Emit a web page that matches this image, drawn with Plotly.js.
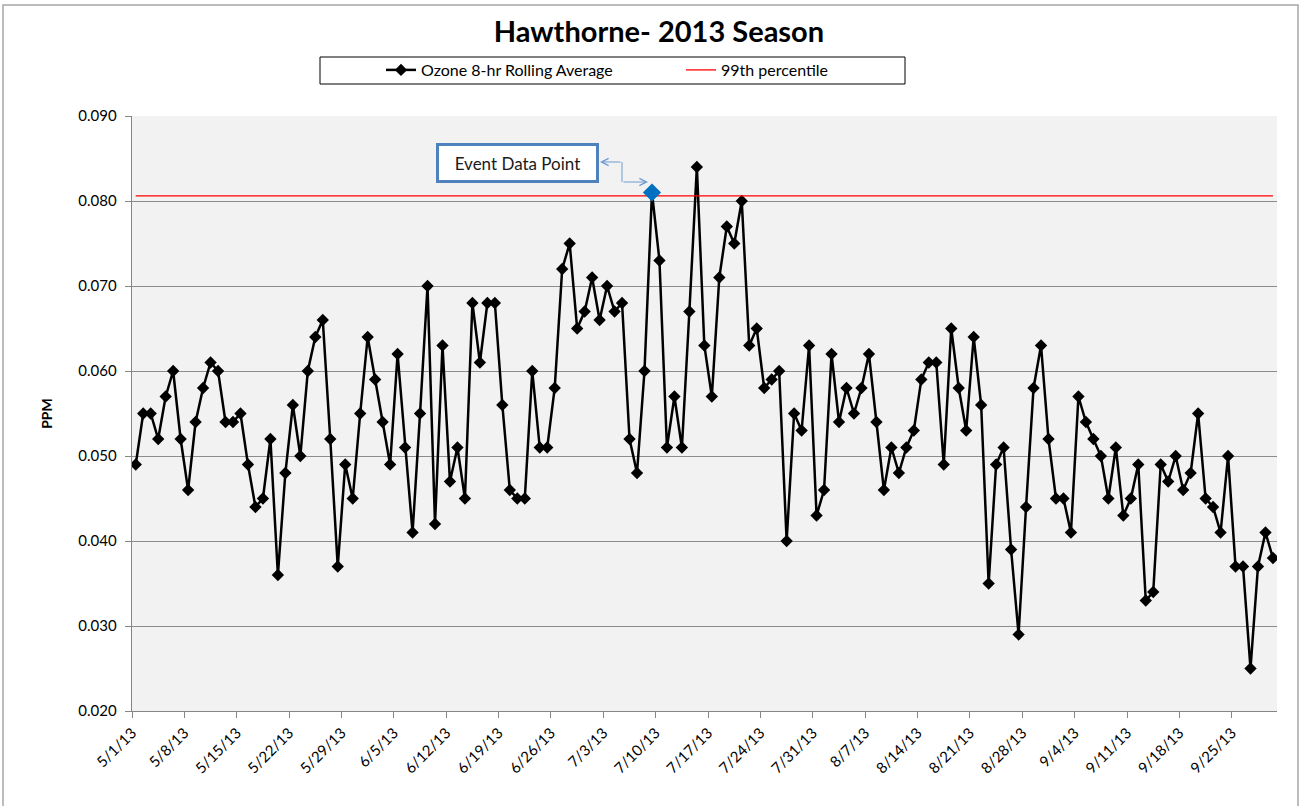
<!DOCTYPE html>
<html>
<head>
<meta charset="utf-8">
<script src="https://cdn.plot.ly/plotly-3.0.1.min.js"></script>
<style>html,body{margin:0;padding:0;background:#fff;}#chart{width:1301px;height:806px;}</style>
</head>
<body>
<div id="chart"></div>
<script>
// ---- data ----
const startDate = [2013, 5, 1]; // first day of the season (5/1/13)
const ozone = [
  0.049,0.055,0.055,0.052,0.057,0.060,0.052,0.046,0.054,0.058,
  0.061,0.060,0.054,0.054,0.055,0.049,0.044,0.045,0.052,0.036,
  0.048,0.056,0.050,0.060,0.064,0.066,0.052,0.037,0.049,0.045,
  0.055,0.064,0.059,0.054,0.049,0.062,0.051,0.041,0.055,0.070,
  0.042,0.063,0.047,0.051,0.045,0.068,0.061,0.068,0.068,0.056,
  0.046,0.045,0.045,0.060,0.051,0.051,0.058,0.072,0.075,0.065,
  0.067,0.071,0.066,0.070,0.067,0.068,0.052,0.048,0.060,0.081,
  0.073,0.051,0.057,0.051,0.067,0.084,0.063,0.057,0.071,0.077,
  0.075,0.080,0.063,0.065,0.058,0.059,0.060,0.040,0.055,0.053,
  0.063,0.043,0.046,0.062,0.054,0.058,0.055,0.058,0.062,0.054,
  0.046,0.051,0.048,0.051,0.053,0.059,0.061,0.061,0.049,0.065,
  0.058,0.053,0.064,0.056,0.035,0.049,0.051,0.039,0.029,0.044,
  0.058,0.063,0.052,0.045,0.045,0.041,0.057,0.054,0.052,0.050,
  0.045,0.051,0.043,0.045,0.049,0.033,0.034,0.049,0.047,0.050,
  0.046,0.048,0.055,0.045,0.044,0.041,0.050,0.037,0.037,0.025,
  0.037,0.041,0.038
];
const percentile99 = 0.0806;
const eventIndex = 69;          // 7/9/13
const eventLabel = "Event Data Point";
const seriesNames = ["Ozone 8-hr Rolling Average", "99th percentile"];
const chartTitle = "Hawthorne- 2013 Season";
const yTitle = "PPM";

// ---- build dates (each daily value centred on its day) ----
function pad(n){ return (n < 10 ? "0" : "") + n; }
function dayString(i, hour){
  const d = new Date(Date.UTC(startDate[0], startDate[1]-1, startDate[2] + i));
  return d.getUTCFullYear() + "-" + pad(d.getUTCMonth()+1) + "-" + pad(d.getUTCDate()) + " " + pad(hour) + ":00";
}
const dates = ozone.map((v, i) => dayString(i, 12));
const rangeStart = dayString(0, 0);
const rangeEnd = dayString(ozone.length, 1);

const FONT = "Lato, 'Open Sans', sans-serif";
const BLUE = "#4f81bd";

// pixel -> paper helpers for the decorative annotation geometry
const PL = 132, PR = 1277, PT = 116, PB = 711;
const px = x => (x - PL) / (PR - PL);
const py = y => (PB - y) / (PB - PT);

const traces = [
  {
    x: dates, y: ozone, type: "scatter", mode: "lines+markers",
    name: seriesNames[0],
    line: {color: "#000000", width: 2.5},
    marker: {symbol: "diamond", size: 9.5, color: "#000000"}
  },
  {
    x: [dates[0], dates[dates.length-1]], y: [percentile99, percentile99],
    type: "scatter", mode: "lines", name: seriesNames[1],
    line: {color: "#ff0000", width: 1.3}
  },
  {
    x: [dates[eventIndex]], y: [ozone[eventIndex]], type: "scatter", mode: "markers",
    name: eventLabel, showlegend: false,
    marker: {symbol: "diamond", size: 14, color: "#0070c0"}
  }
];

const layout = {
  width: 1301, height: 806,
  margin: {l: PL, r: 1301 - PR, t: PT, b: 806 - PB},
  paper_bgcolor: "#ffffff",
  plot_bgcolor: "#f2f2f2",
  font: {family: FONT, size: 15, color: "#000000"},
  title: {
    text: "<b>" + chartTitle + "</b>",
    font: {family: FONT, size: 29, color: "#000000"},
    xref: "container", x: 0.5065, xanchor: "center",
    yref: "container", y: 1 - 32/806, yanchor: "middle"
  },
  showlegend: true,
  legend: {
    orientation: "h",
    x: px(381), xanchor: "left",
    y: py(70), yanchor: "middle",
    bgcolor: "rgba(0,0,0,0)", borderwidth: 0,
    font: {family: FONT, size: 16, color: "#000000"},
    entrywidth: 255, itemwidth: 30
  },
  xaxis: {
    type: "date",
    range: [rangeStart, rangeEnd],
    tick0: rangeStart, dtick: 7 * 86400000,
    tickformat: "%-m/%-d/%y",
    tickangle: -45,
    ticks: "outside", ticklen: 6, tickcolor: "#868686",
    showline: true, linecolor: "#868686", linewidth: 1.3,
    showgrid: false, zeroline: false,
    tickfont: {family: FONT, size: 15, color: "#000000"}
  },
  yaxis: {
    range: [0.02, 0.09],
    tick0: 0.02, dtick: 0.01,
    tickformat: ".3f",
    ticks: "outside", ticklen: 6, tickcolor: "#868686",
    ticklabelstandoff: 5,
    showline: true, linecolor: "#868686", linewidth: 1.3,
    showgrid: true, gridcolor: "#8c8c8c", gridwidth: 1,
    zeroline: false,
    tickfont: {family: FONT, size: 15, color: "#000000"},
    title: {text: "<b>" + yTitle + "</b>", font: {family: FONT, size: 14, color: "#000000"}, standoff: 22}
  },
  shapes: [
    // outer chart frame
    {type: "rect", xref: "paper", yref: "paper",
     x0: px(3), x1: px(1298), y0: py(812), y1: py(5),
     line: {color: "#a6a6a6", width: 1.5}, fillcolor: "rgba(0,0,0,0)", layer: "below"},
    // legend box
    {type: "rect", xref: "paper", yref: "paper",
     x0: px(320), x1: px(905), y0: py(84), y1: py(57),
     line: {color: "#000000", width: 1}, fillcolor: "rgba(0,0,0,0)"},
    // elbow connector (vertical segment)
    {type: "line", xref: "paper", yref: "paper",
     x0: px(622), x1: px(622), y0: py(162), y1: py(182),
     line: {color: "#6f9bd1", width: 1}}
  ],
  annotations: [
    {
      text: eventLabel, xref: "paper", yref: "paper",
      x: px(517.5), y: py(163), xanchor: "center", yanchor: "middle",
      showarrow: false, width: 157, height: 34,
      bordercolor: BLUE, borderwidth: 3, borderpad: 0, bgcolor: "#ffffff",
      font: {family: FONT, size: 17, color: "#1a1a1a"}
    },
    {
      text: "", xref: "paper", yref: "paper",
      x: px(648), y: py(182), ax: -26, ay: 0,
      showarrow: true, arrowhead: 5, arrowsize: 1.4, arrowwidth: 1, arrowcolor: "#6f9bd1"
    },
    {
      text: "", xref: "paper", yref: "paper",
      x: px(600), y: py(162), ax: 22, ay: 0,
      showarrow: true, arrowhead: 5, arrowsize: 1.4, arrowwidth: 1, arrowcolor: "#6f9bd1"
    }
  ]
};

Plotly.newPlot("chart", traces, layout, {displayModeBar: false, staticPlot: true});
</script>
</body>
</html>
